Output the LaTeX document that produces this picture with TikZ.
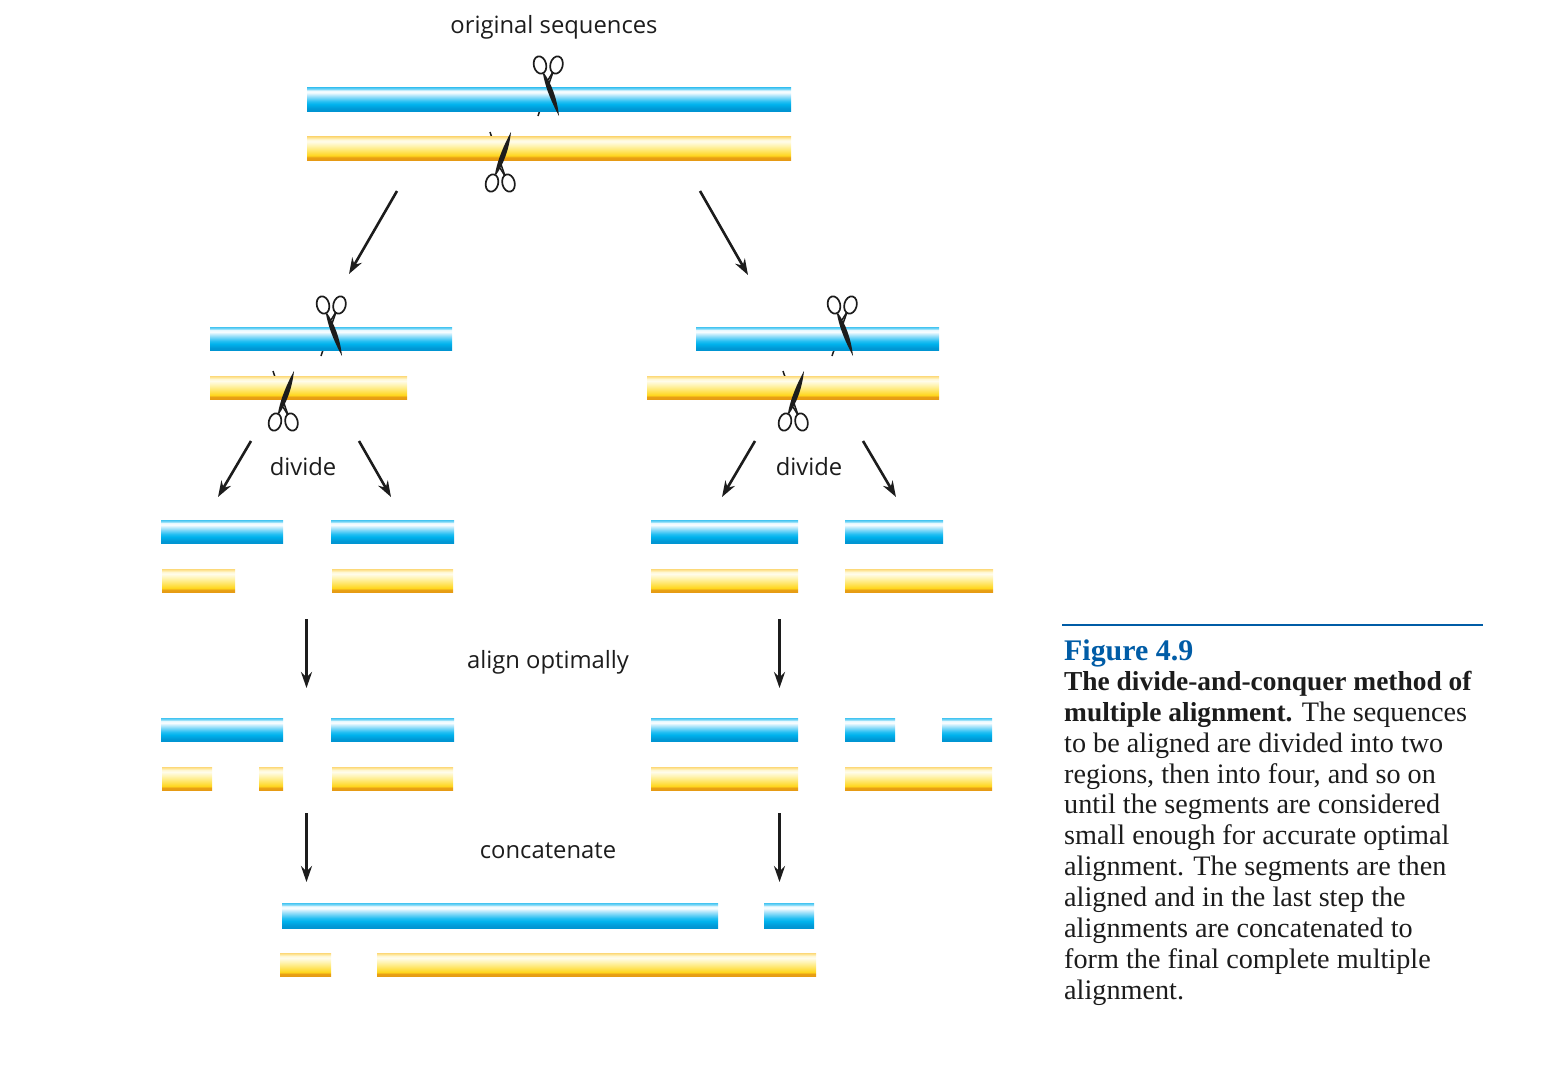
\documentclass[tikz,border=0pt]{standalone}
\usepackage{fontspec}
\setmainfont{Liberation Serif}
\setsansfont{Open Sans}
\usetikzlibrary{arrows.meta,positioning}
\definecolor{capblue}{rgb}{0.0,0.36,0.65}
\definecolor{inkblack}{rgb}{0.11,0.11,0.11}
\pgfdeclareverticalshading{blueshade}{100bp}{
  rgb(0bp)=(0,0.58,0.82);
  rgb(25bp)=(0,0.58,0.82);
  rgb(31bp)=(0,0.60,0.84);
  rgb(40bp)=(0,0.70,0.93);
  rgb(46bp)=(0.15,0.75,0.95);
  rgb(57bp)=(0.62,0.88,0.98);
  rgb(65bp)=(0.97,0.99,1);
  rgb(69bp)=(0.93,0.98,1);
  rgb(72bp)=(0.50,0.85,0.97);
  rgb(75bp)=(0.30,0.78,0.95);
  rgb(100bp)=(0.30,0.78,0.95)}
\pgfdeclareverticalshading{yellowshade}{100bp}{
  rgb(0bp)=(0.90,0.60,0.08);
  rgb(25bp)=(0.90,0.60,0.08);
  rgb(31bp)=(0.91,0.63,0.08);
  rgb(35bp)=(1,0.84,0.12);
  rgb(47bp)=(1,0.91,0.45);
  rgb(57bp)=(1,0.96,0.72);
  rgb(65bp)=(1,0.99,0.92);
  rgb(69bp)=(1,0.97,0.84);
  rgb(72bp)=(1,0.92,0.65);
  rgb(75bp)=(0.99,0.86,0.50);
  rgb(100bp)=(0.99,0.86,0.50)}
\tikzset{
  seqblue/.style={rectangle, inner sep=0pt, minimum height=23.5pt, shading=blueshade},
  seqyellow/.style={rectangle, inner sep=0pt, minimum height=23.5pt, shading=yellowshade},
  flow/.style={-{Stealth[length=16pt,width=11pt]}, draw=inkblack, line width=2.6pt},
  tag/.style={font=\sffamily\fontsize{23.8}{27}\selectfont, text=inkblack, inner sep=0pt},
  cutback/.pic={
    \draw[inkblack, line width=1.5pt] (5,-8) -- (-10,36);
  },
  cutfront/.pic={
    \draw[inkblack, line width=1.7pt, rotate around={14:(-8,-15)}] (-8,-15) ellipse (6.2pt and 8.8pt);
    \draw[inkblack, line width=1.7pt, rotate around={-14:(8.5,-15)}] (8.5,-15) ellipse (6.2pt and 8.8pt);
    \fill[inkblack] (-4,-7) .. controls (3,3) and (9,18) .. (11,36)
      .. controls (5,25) and (-2,10) .. (-5,-6) -- cycle;
    \draw[inkblack, line width=1.5pt] (5,-8) -- (0,0);
  }
}
\begin{document}
\begin{tikzpicture}[x=1pt, y=-1pt]
  \useasboundingbox (0,0) rectangle (1552,1071);
  % Scissors, thin blade under the bars
  \pic at (548,80) {cutback};
  \pic[yscale=-1] at (500,168) {cutback};
  \pic at (331,320) {cutback};
  \pic[yscale=-1] at (283,407) {cutback};
  \pic at (842,320) {cutback};
  \pic[yscale=-1] at (793,407) {cutback};
  % Original
  \node (orig) [tag] at (554,27.5) {original sequences};
  \node (topb) [seqblue, minimum width=484pt] at (549,99.5) {};
  \node (topy) [seqyellow, minimum width=484pt] at (549,148.5) {};
  % Divide once
  \node (lb) [seqblue, minimum width=242pt] at (331,339) {};
  \node (ly) [seqyellow, minimum width=197pt] at (308.5,388) {};
  \node (rb) [seqblue, minimum width=243pt] at (817.5,339) {};
  \node (ry) [seqyellow, minimum width=292pt] at (793,388) {};
  % Divide twice
  \node (divl) [tag] at (303,467) {divide};
  \node (divr) [tag] at (809,467) {divide};
  \node (b1) [seqblue, minimum width=122pt] at (222,532) {};
  \node (b2) [seqblue, minimum width=123pt] at (392.5,532) {};
  \node (b3) [seqblue, minimum width=147pt] at (724.5,532) {};
  \node (b4) [seqblue, minimum width=98pt] at (894,532) {};
  \node (y1) [seqyellow, minimum width=73pt] at (198.5,581) {};
  \node (y2) [seqyellow, minimum width=121pt] at (392.5,581) {};
  \node (y3) [seqyellow, minimum width=147pt] at (724.5,581) {};
  \node (y4) [seqyellow, minimum width=148pt] at (919,581) {};
  % Aligned
  \node (align) [tag] at (548,662) {align optimally};
  \node (ab1) [seqblue, minimum width=122pt] at (222,730) {};
  \node (ab2) [seqblue, minimum width=123pt] at (392.5,730) {};
  \node (ab3) [seqblue, minimum width=147pt] at (724.5,730) {};
  \node (ab4) [seqblue, minimum width=50pt] at (870,730) {};
  \node (ab5) [seqblue, minimum width=50pt] at (967,730) {};
  \node (ay1) [seqyellow, minimum width=50pt] at (187,779) {};
  \node (ay2) [seqyellow, minimum width=24pt] at (271,779) {};
  \node (ay3) [seqyellow, minimum width=121pt] at (392.5,779) {};
  \node (ay4) [seqyellow, minimum width=147pt] at (724.5,779) {};
  \node (ay5) [seqyellow, minimum width=147pt] at (918.5,779) {};
  % Concatenated
  \node (conc) [tag] at (548,851) {concatenate};
  \node (fb1) [seqblue, minimum width=436pt, minimum height=25.5pt] at (500,916) {};
  \node (fb2) [seqblue, minimum width=50pt, minimum height=25.5pt] at (789,916) {};
  \node (fy1) [seqyellow, minimum width=51pt] at (305.5,965) {};
  \node (fy2) [seqyellow, minimum width=439pt] at (596.5,965) {};
  % Scissors, rest on top
  \pic at (548,80) {cutfront};
  \pic[yscale=-1] at (500,168) {cutfront};
  \pic at (331,320) {cutfront};
  \pic[yscale=-1] at (283,407) {cutfront};
  \pic at (842,320) {cutfront};
  \pic[yscale=-1] at (793,407) {cutfront};
  % Arrow ends
  \coordinate (a1s) at (397,191);
  \coordinate (a1e) at (349,274);
  \coordinate (a2s) at (700,191);
  \coordinate (a2e) at (748,275);
  \coordinate (a3s) at (251,441);
  \coordinate (a3e) at (218,497);
  \coordinate (a4s) at (359,441);
  \coordinate (a4e) at (391,497);
  \coordinate (a5s) at (755,441);
  \coordinate (a5e) at (722,497);
  \coordinate (a6s) at (863,441);
  \coordinate (a6e) at (896,497);
  \coordinate (a7s) at (306.5,619);
  \coordinate (a7e) at (306.5,688);
  \coordinate (a8s) at (779.5,619);
  \coordinate (a8e) at (779.5,688);
  \coordinate (a9s) at (306.5,813);
  \coordinate (a9e) at (306.5,882);
  \coordinate (a10s) at (779.5,813);
  \coordinate (a10e) at (779.5,882);
  % Arrows
  \draw[flow] (a1s) -- (a1e);
  \draw[flow] (a2s) -- (a2e);
  \draw[flow] (a3s) -- (a3e);
  \draw[flow] (a4s) -- (a4e);
  \draw[flow] (a5s) -- (a5e);
  \draw[flow] (a6s) -- (a6e);
  \draw[flow] (a7s) -- (a7e);
  \draw[flow] (a8s) -- (a8e);
  \draw[flow] (a9s) -- (a9e);
  \draw[flow] (a10s) -- (a10e);
  % Caption
  \draw[capblue, line width=2pt] (1062,624.5) -- (1483,624.5);
  \node (figno) [anchor=base west, inner sep=0pt, text=capblue, font=\bfseries\fontsize{29.9}{31}\selectfont] at (1064,660) {Figure 4.9};
  \node (capt) [anchor=north west, inner sep=0pt, align=left, text=inkblack, font=\fontsize{28.2}{30.85}\selectfont] at (1064,671)
    {{\bfseries\fontsize{27.4}{30.85}\selectfont The divide-and-conquer method of}\\
     {\bfseries\fontsize{27.4}{30.85}\selectfont multiple alignment.} The sequences\\
     to be aligned are divided into two\\
     regions, then into four, and so on\\
     until the segments are considered\\
     small enough for accurate optimal\\
     alignment. The segments are then\\
     aligned and in the last step the\\
     alignments are concatenated to\\
     form the final complete multiple\\
     alignment.};
\end{tikzpicture}
\end{document}
